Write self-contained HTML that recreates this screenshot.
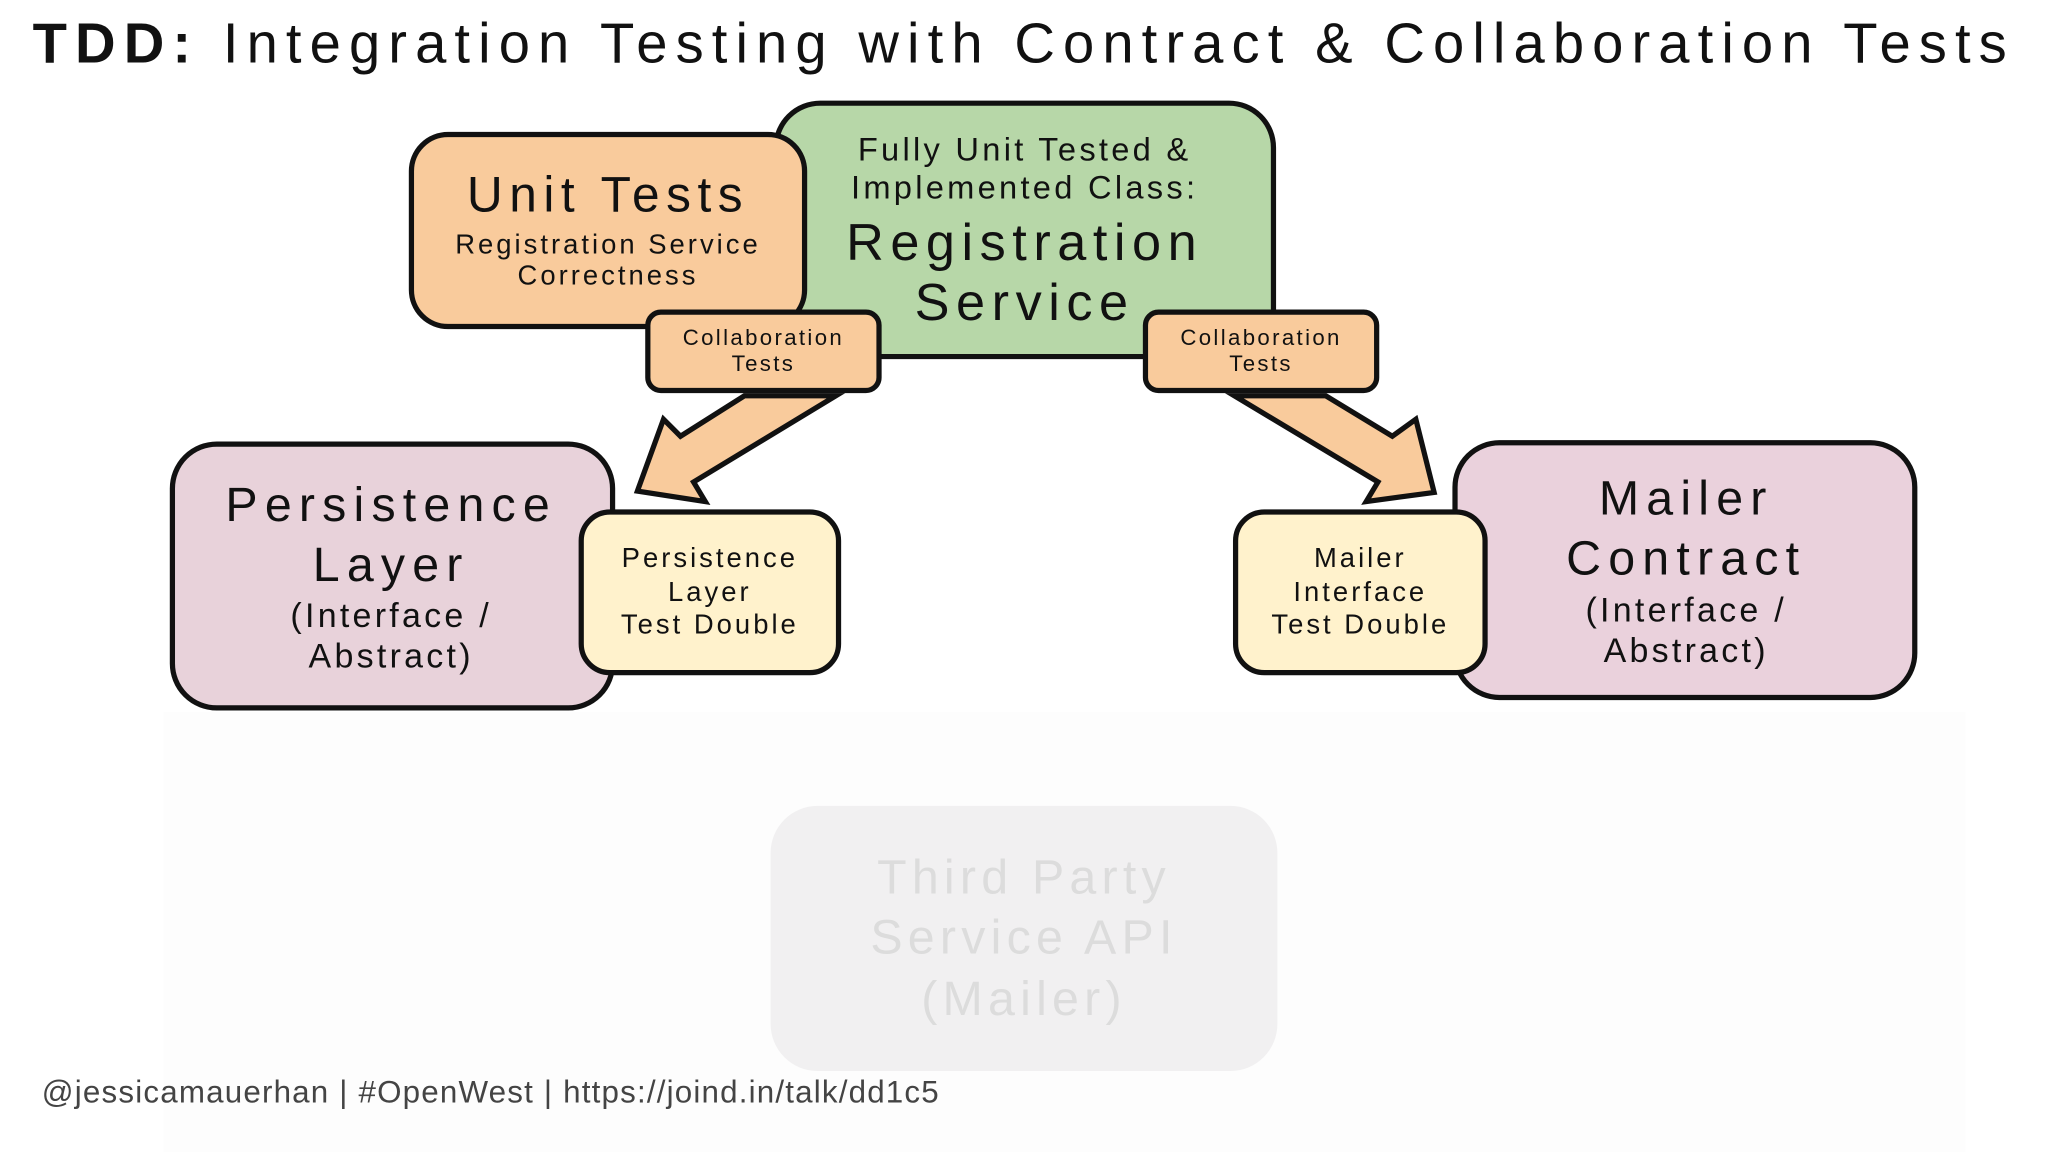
<!DOCTYPE html>
<html><head><meta charset="utf-8"><style>
html,body{margin:0;padding:0;background:#fff;}
#wrap{width:2048px;height:1152px;overflow:hidden;position:relative;background:#fff;}
#s{position:absolute;left:0;top:0;width:1568px;height:882px;transform:scale(1.30612);transform-origin:0 0;font-family:"Liberation Sans",sans-serif;color:#111;}
.b{position:absolute;box-sizing:border-box;border:4px solid #111;display:flex;flex-direction:column;align-items:center;justify-content:center;text-align:center;line-height:1.15;}
.t{position:absolute;white-space:nowrap;}
</style></head><body><div id="wrap"><div id="s">
<div style="position:absolute;left:125px;top:545px;width:1380px;height:337px;background:#fdfdfd"></div>
<div class="t" style="left:25px;top:10px;font-size:43px;letter-spacing:6.2px;"><b>TDD:</b> Integration Testing with Contract &amp; Collaboration Tests</div>

<div class="b" style="left:592px;top:77px;width:385px;height:198px;border-radius:36px;background:#b7d7a8;justify-content:flex-start;padding-top:20px;padding-left:0px;">
<div style="font-size:25px;letter-spacing:2.5px">Fully Unit Tested &amp;</div>
<div style="font-size:25px;letter-spacing:2.5px">Implemented Class:</div>
<div style="font-size:40px;letter-spacing:5px;margin-top:4px;line-height:1.15">Registration<br>Service</div>
</div>
<div class="b" style="left:313px;top:101px;width:305px;height:151px;border-radius:30px;background:#f9cb9c;padding-bottom:0px;">
<div style="font-size:38px;letter-spacing:5px">Unit Tests</div>
<div style="font-size:21px;letter-spacing:2.3px;margin-top:4px">Registration Service<br>Correctness</div>
</div>

<div class="b" style="left:130px;top:338px;width:341px;height:206px;border-radius:36px;background:#e8d2da;padding-right:2px;">
<div style="font-size:37px;letter-spacing:5.5px;line-height:1.25">Persistence<br>Layer</div>
<div style="font-size:26px;letter-spacing:2.5px;line-height:1.2">(Interface /<br>Abstract)</div>
</div>
<div class="b" style="left:1112px;top:337px;width:356px;height:199px;border-radius:36px;background:#ead1dc;padding-left:2px;">
<div style="font-size:37px;letter-spacing:5.5px;line-height:1.25">Mailer<br>Contract</div>
<div style="font-size:26px;letter-spacing:2.5px;line-height:1.2">(Interface /<br>Abstract)</div>
</div>

<svg style="position:absolute;left:0;top:0" width="1568" height="882">
<polygon points="570,303 521,334 508,321 488,376 540,384 531,369 640,303" fill="#f9cb9c" stroke="#111" stroke-width="4" stroke-linejoin="miter"/>
<polygon points="945,303 1055,369 1046,384 1098,377 1084,321 1066,334 1015,303" fill="#f9cb9c" stroke="#111" stroke-width="4" stroke-linejoin="miter"/>
</svg>

<div class="b" style="left:494px;top:237px;width:181px;height:64px;border-radius:12px;background:#f9cb9c;font-size:17px;letter-spacing:1.8px;">Collaboration<br>Tests</div>
<div class="b" style="left:875px;top:237px;width:181px;height:64px;border-radius:12px;background:#f9cb9c;font-size:17px;letter-spacing:1.8px;">Collaboration<br>Tests</div>

<div class="b" style="left:443px;top:390px;width:201px;height:127px;border-radius:24px;background:#fff2cc;font-size:21px;letter-spacing:2.3px;line-height:1.22">Persistence<br>Layer<br>Test Double</div>
<div class="b" style="left:944px;top:390px;width:195px;height:127px;border-radius:24px;background:#fff2cc;font-size:21px;letter-spacing:2.3px;line-height:1.22">Mailer<br>Interface<br>Test Double</div>

<div class="b" style="left:590px;top:617px;width:388px;height:203px;border-radius:36px;background:#f1f0f1;border:none;color:#dcdcdc;font-size:37px;letter-spacing:4px;line-height:1.25">Third Party<br>Service API<br>(Mailer)</div>

<div class="t" style="left:32px;top:823px;font-size:24px;letter-spacing:0.9px;color:#444;">@jessicamauerhan | #OpenWest | https://joind.in/talk/dd1c5</div>
</div></div></body></html>
